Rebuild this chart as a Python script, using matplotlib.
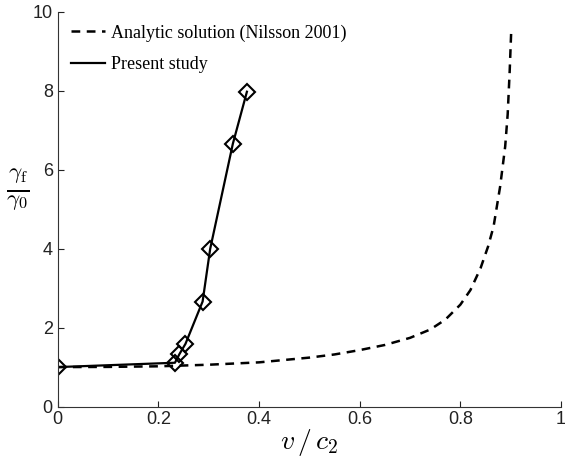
import matplotlib
matplotlib.use('Agg')
import matplotlib.pyplot as plt

plt.rcParams['mathtext.fontset'] = 'cm'

# analytic solution (Nilsson 2001)
analytic_v = [0.0, 0.1, 0.2, 0.3, 0.4, 0.5, 0.55, 0.6, 0.65, 0.7, 0.74, 0.77,
              0.8, 0.82, 0.84, 0.855, 0.866, 0.879, 0.889, 0.894, 0.898, 0.901]
analytic_g = [1.0, 1.005, 1.02, 1.06, 1.12, 1.24, 1.32, 1.43, 1.56, 1.74, 1.95,
              2.2, 2.58, 2.95, 3.5, 4.05, 4.56, 5.57, 6.58, 7.4, 8.5, 9.5]

# present study
study_v = [0.0, 0.233, 0.242, 0.254, 0.288, 0.303, 0.348, 0.376]
study_g = [1.0, 1.11, 1.33, 1.59, 2.66, 3.99, 6.65, 7.97]

fig = plt.figure(figsize=(5.65, 4.61), dpi=100)
ax = fig.add_axes([0.102, 0.118, 0.891, 0.857])

ax.plot(analytic_v, analytic_g, '--', color='black', lw=1.8, dashes=(3.5, 2.6),
        label='Analytic solution (Nilsson 2001)')
ax.plot(study_v, study_g, '-', color='black', lw=1.6, label='Present study')
ax.plot(study_v, study_g, 'D', color='black', mfc='none', ms=8, mew=1.5)

ax.set_xlim(0, 1)
ax.set_ylim(0, 10)
ax.set_xticks([0, 0.2, 0.4, 0.6, 0.8, 1])
ax.set_xticklabels(['0', '0.2', '0.4', '0.6', '0.8', '1'])
ax.set_yticks([0, 2, 4, 6, 8, 10])
for s in ['top', 'right']:
    ax.spines[s].set_visible(False)
for s in ['left', 'bottom']:
    ax.spines[s].set_color('#333333')
ax.tick_params(direction='in', length=4, width=0.8, labelsize=13,
               colors='#222222')
for lab in ax.get_xticklabels() + ax.get_yticklabels():
    lab.set_family(['Liberation Sans', 'DejaVu Sans'])

ax.set_xlabel(r'$v\,/\,c_2$', fontsize=20, labelpad=-1)
fig.text(0.032, 0.59, r'$\frac{\gamma_{\mathrm{f}}}{\gamma_0}$', fontsize=24,
         ha='center', va='center')

leg = ax.legend(loc='upper left', frameon=False,
                prop={'family': 'Liberation Serif', 'size': 13},
                handlelength=1.9, handletextpad=0.3, labelspacing=0.8,
                borderaxespad=0.2, bbox_to_anchor=(0.005, 0.995))

fig.savefig('out.png', dpi=100)
